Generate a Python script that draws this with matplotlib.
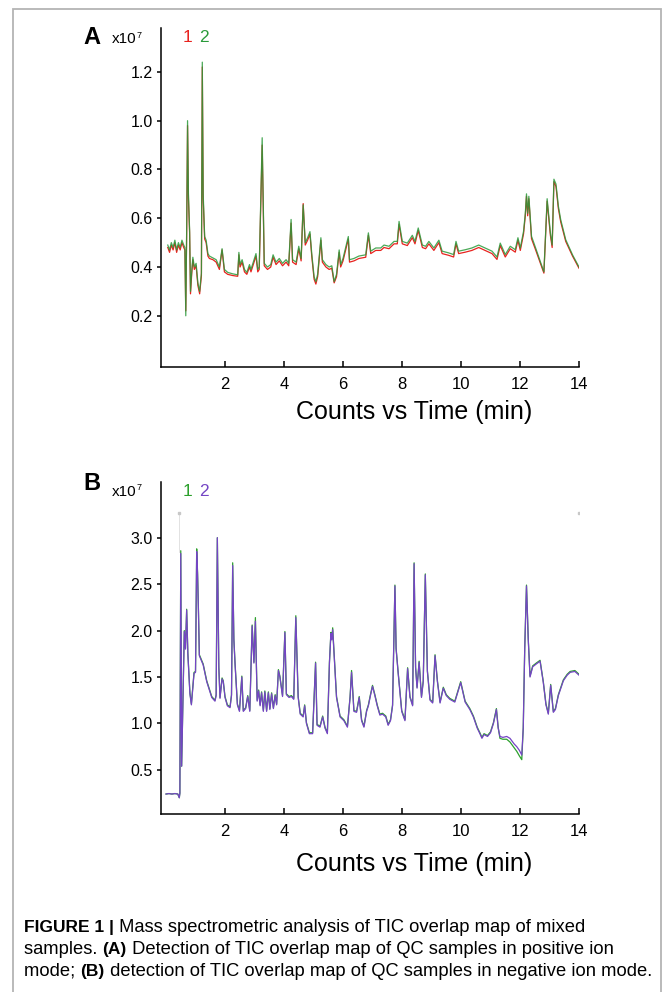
import numpy as np
import matplotlib.pyplot as plt
from matplotlib.patches import Rectangle

plt.rcParams['font.family'] = ['Liberation Sans', 'DejaVu Sans']

# Panel A: TIC, positive ion mode (x1e7 counts)
tA = [0.06, 0.12, 0.18, 0.24, 0.30, 0.36, 0.42, 0.48, 0.54, 0.60, 0.64, 0.67, 0.70, 0.73,
      0.76, 0.80, 0.83, 0.87, 0.91, 0.96, 1.02, 1.08, 1.14, 1.20, 1.23, 1.26, 1.31, 1.36,
      1.42, 1.47, 1.59, 1.70, 1.81, 1.90, 1.98, 2.09, 2.26, 2.43, 2.47, 2.51, 2.58, 2.66,
      2.74, 2.83, 2.88, 2.96, 3.05, 3.11, 3.16, 3.26, 3.33, 3.44, 3.55, 3.63, 3.73, 3.84,
      3.95, 4.07, 4.16, 4.24, 4.29, 4.41, 4.50, 4.58, 4.65, 4.72, 4.80, 4.88, 4.94, 5.02,
      5.08, 5.14, 5.25, 5.30, 5.42, 5.53, 5.62, 5.70, 5.78, 5.87, 5.92, 6.00, 6.18, 6.22,
      6.37, 6.54, 6.77, 6.86, 6.94, 7.11, 7.28, 7.39, 7.56, 7.73, 7.84, 7.90, 8.01, 8.18,
      8.35, 8.44, 8.55, 8.69, 8.80, 8.91, 9.08, 9.25, 9.36, 9.58, 9.75, 9.83, 9.92, 10.15,
      10.37, 10.60, 10.82, 11.05, 11.22, 11.33, 11.50, 11.67, 11.84, 11.93, 12.01, 12.12,
      12.18, 12.22, 12.26, 12.30, 12.39, 12.53, 12.81, 12.92, 13.03, 13.09, 13.15, 13.22,
      13.30, 13.38, 13.55, 13.78, 14.00]
A_s2 = [0.49, 0.47, 0.50, 0.48, 0.51, 0.47, 0.50, 0.48, 0.51, 0.49, 0.48, 0.20, 0.55, 1.00,
        0.70, 0.55, 0.30, 0.38, 0.44, 0.40, 0.415, 0.335, 0.30, 0.375, 1.24, 0.70, 0.525, 0.51,
        0.455, 0.445, 0.437, 0.43, 0.40, 0.475, 0.39, 0.378, 0.372, 0.368, 0.46, 0.41, 0.43, 0.39,
        0.378, 0.41, 0.39, 0.42, 0.455, 0.39, 0.40, 0.93, 0.415, 0.40, 0.41, 0.45, 0.42, 0.435,
        0.415, 0.43, 0.415, 0.595, 0.43, 0.42, 0.485, 0.435, 0.655, 0.50, 0.52, 0.545, 0.455, 0.36,
        0.34, 0.37, 0.52, 0.43, 0.41, 0.40, 0.405, 0.34, 0.37, 0.47, 0.41, 0.435, 0.525, 0.43,
        0.435, 0.445, 0.45, 0.54, 0.465, 0.478, 0.478, 0.49, 0.485, 0.505, 0.505, 0.587, 0.505, 0.498,
        0.53, 0.505, 0.56, 0.49, 0.485, 0.505, 0.478, 0.51, 0.465, 0.458, 0.451, 0.505, 0.465, 0.471,
        0.478, 0.49, 0.478, 0.465, 0.441, 0.498, 0.451, 0.485, 0.471, 0.52, 0.478, 0.546,
        0.62, 0.70, 0.62, 0.69, 0.526, 0.478, 0.38, 0.68, 0.54, 0.49, 0.76, 0.74,
        0.65, 0.594, 0.512, 0.45, 0.40]
A_s1 = [0.48, 0.46, 0.49, 0.47, 0.50, 0.46, 0.49, 0.47, 0.50, 0.48, 0.47, 0.22, 0.54, 0.98,
        0.68, 0.54, 0.29, 0.37, 0.43, 0.39, 0.405, 0.325, 0.29, 0.365, 1.22, 0.68, 0.515, 0.50,
        0.445, 0.435, 0.430, 0.42, 0.39, 0.470, 0.38, 0.370, 0.365, 0.362, 0.45, 0.40, 0.42, 0.38,
        0.370, 0.40, 0.38, 0.41, 0.445, 0.38, 0.39, 0.90, 0.405, 0.39, 0.40, 0.44, 0.41, 0.425,
        0.405, 0.42, 0.405, 0.58, 0.42, 0.41, 0.475, 0.425, 0.66, 0.49, 0.51, 0.535, 0.445, 0.35,
        0.33, 0.36, 0.51, 0.42, 0.40, 0.39, 0.395, 0.335, 0.36, 0.46, 0.40, 0.425, 0.515, 0.42,
        0.425, 0.435, 0.44, 0.53, 0.455, 0.468, 0.468, 0.48, 0.475, 0.495, 0.495, 0.575, 0.495, 0.488,
        0.52, 0.495, 0.55, 0.48, 0.475, 0.495, 0.468, 0.50, 0.455, 0.448, 0.441, 0.495, 0.455, 0.461,
        0.468, 0.48, 0.468, 0.455, 0.431, 0.488, 0.441, 0.475, 0.461, 0.51, 0.468, 0.536,
        0.61, 0.69, 0.61, 0.68, 0.516, 0.470, 0.375, 0.67, 0.53, 0.48, 0.75, 0.73,
        0.64, 0.585, 0.505, 0.445, 0.395]

# Panel B: TIC, negative ion mode (x1e7 counts)
tB = [0.00, 0.10, 0.20, 0.30, 0.40, 0.45, 0.47, 0.50, 0.53, 0.57, 0.62, 0.66, 0.70, 0.74,
      0.81, 0.86, 0.95, 1.00, 1.04, 1.07, 1.10, 1.13, 1.26, 1.38, 1.55, 1.66, 1.70, 1.74,
      1.79, 1.83, 1.90, 1.94, 2.00, 2.08, 2.17, 2.22, 2.26, 2.30, 2.34, 2.42, 2.49, 2.57,
      2.62, 2.70, 2.77, 2.84, 2.92, 2.98, 3.03, 3.09, 3.14, 3.19, 3.24, 3.30, 3.35, 3.41,
      3.47, 3.52, 3.58, 3.64, 3.70, 3.75, 3.81, 3.86, 3.95, 4.03, 4.08, 4.17, 4.25, 4.33,
      4.40, 4.48, 4.55, 4.65, 4.70, 4.76, 4.86, 4.97, 5.07, 5.12, 5.22, 5.31, 5.39, 5.47,
      5.54, 5.59, 5.62, 5.65, 5.70, 5.78, 5.90, 6.03, 6.15, 6.24, 6.29, 6.37, 6.46, 6.55,
      6.63, 6.71, 6.80, 6.86, 6.93, 7.00, 7.08, 7.16, 7.25, 7.34, 7.45, 7.53, 7.61, 7.68,
      7.76, 7.80, 7.87, 7.99, 8.10, 8.19, 8.27, 8.36, 8.41, 8.46, 8.51, 8.58, 8.66, 8.72,
      8.79, 8.86, 8.95, 9.04, 9.12, 9.20, 9.29, 9.40, 9.50, 9.62, 9.79, 9.99, 10.14, 10.30,
      10.42, 10.55, 10.64, 10.71, 10.78, 10.90, 11.00, 11.10, 11.20, 11.26, 11.32, 11.42, 11.55, 11.66,
      11.80, 11.89, 11.98, 12.06, 12.11, 12.16, 12.22, 12.28, 12.34, 12.43, 12.55, 12.68, 12.79, 12.88,
      12.96, 13.04, 13.13, 13.20, 13.30, 13.47, 13.60, 13.70, 13.86, 14.00]
B_s2 = [0.24, 0.245, 0.24, 0.245, 0.24, 0.20, 0.25, 2.83, 0.54, 1.20, 1.99, 1.80, 2.22, 1.75,
        1.32, 1.20, 1.54, 1.55, 2.85, 2.60, 2.20, 1.73, 1.63, 1.45, 1.28, 1.24, 1.30, 3.00,
        1.60, 1.27, 1.48, 1.45, 1.28, 1.19, 1.17, 1.30, 2.70, 1.90, 1.64, 1.20, 1.13, 1.50,
        1.13, 1.16, 1.29, 1.13, 2.05, 1.65, 2.10, 1.24, 1.35, 1.19, 1.33, 1.13, 1.34, 1.13,
        1.33, 1.15, 1.32, 1.16, 1.30, 1.20, 1.57, 1.50, 1.29, 1.98, 1.31, 1.28, 1.29, 1.26,
        2.14, 1.28, 1.10, 1.07, 1.19, 1.00, 0.89, 0.89, 1.65, 0.98, 0.96, 1.07, 0.95, 0.89,
        1.65, 1.97, 1.90, 2.01, 1.73, 1.28, 1.07, 1.03, 0.96, 1.28, 1.55, 1.13, 1.12, 1.28,
        1.03, 0.96, 1.13, 1.19, 1.30, 1.40, 1.30, 1.19, 1.09, 1.10, 1.07, 0.98, 1.03, 1.19,
        2.48, 1.80, 1.54, 1.13, 1.03, 1.59, 1.28, 1.19, 2.72, 1.60, 1.38, 1.66, 1.28, 1.45,
        2.60, 1.56, 1.25, 1.22, 1.73, 1.45, 1.22, 1.38, 1.30, 1.26, 1.23, 1.44, 1.23, 1.15,
        1.07, 0.95, 0.89, 0.84, 0.88, 0.86, 0.90, 1.00, 1.15, 0.95, 0.86, 0.85, 0.86, 0.84,
        0.78, 0.75, 0.71, 0.66, 0.95, 1.80, 2.48, 1.90, 1.50, 1.61, 1.64, 1.67, 1.44, 1.20,
        1.10, 1.41, 1.12, 1.15, 1.30, 1.46, 1.52, 1.55, 1.56, 1.52]
B_s1 = [0.24, 0.245, 0.24, 0.245, 0.24, 0.20, 0.25, 2.86, 0.54, 1.20, 2.00, 1.81, 2.23, 1.76,
        1.33, 1.21, 1.55, 1.56, 2.88, 2.62, 2.21, 1.74, 1.64, 1.46, 1.29, 1.25, 1.31, 3.00,
        1.61, 1.28, 1.49, 1.46, 1.29, 1.20, 1.18, 1.31, 2.73, 1.91, 1.65, 1.21, 1.14, 1.51,
        1.14, 1.17, 1.30, 1.14, 2.06, 1.66, 2.14, 1.25, 1.36, 1.20, 1.34, 1.14, 1.35, 1.14,
        1.34, 1.16, 1.33, 1.17, 1.31, 1.21, 1.58, 1.51, 1.30, 1.99, 1.32, 1.29, 1.30, 1.27,
        2.16, 1.29, 1.11, 1.08, 1.20, 1.01, 0.90, 0.90, 1.66, 0.99, 0.97, 1.08, 0.96, 0.90,
        1.66, 1.98, 1.91, 2.03, 1.74, 1.29, 1.08, 1.04, 0.97, 1.29, 1.57, 1.14, 1.13, 1.29,
        1.04, 0.97, 1.14, 1.20, 1.31, 1.41, 1.31, 1.20, 1.10, 1.11, 1.08, 0.99, 1.04, 1.20,
        2.49, 1.81, 1.55, 1.14, 1.04, 1.60, 1.29, 1.20, 2.73, 1.61, 1.39, 1.67, 1.29, 1.46,
        2.61, 1.57, 1.26, 1.23, 1.74, 1.46, 1.23, 1.39, 1.31, 1.27, 1.24, 1.45, 1.24, 1.16,
        1.08, 0.96, 0.90, 0.85, 0.89, 0.87, 0.91, 1.01, 1.16, 0.96, 0.84, 0.83, 0.83, 0.80,
        0.74, 0.70, 0.65, 0.61, 0.95, 1.81, 2.49, 1.91, 1.51, 1.62, 1.65, 1.68, 1.45, 1.21,
        1.11, 1.42, 1.13, 1.16, 1.31, 1.47, 1.53, 1.56, 1.57, 1.53]

W, H = 663, 992
fig = plt.figure(figsize=(W / 100, H / 100), dpi=100)


def fx(x):
    return x / W


def fy(y):
    return 1 - y / H


def style_axis(ax):
    for s in ['top', 'right']:
        ax.spines[s].set_visible(False)
    for s in ['left', 'bottom']:
        ax.spines[s].set_linewidth(1.1)
    ax.tick_params(axis='y', direction='out', length=3, width=1.1, pad=3, labelsize=11.5)
    ax.tick_params(axis='x', direction='in', length=4, width=1.1, pad=7, labelsize=12)
    ax.set_xticks([2, 4, 6, 8, 10, 12, 14])
    ax.set_xlim(-0.17, 14)


# panel A
axA = fig.add_axes([fx(161), fy(367), fx(579) - fx(161), fy(28) - fy(367)])
axA.plot(tA, A_s1, color='#e8231f', lw=0.9)
axA.plot(tA, A_s2, color='#2a9a3a', lw=0.9, alpha=0.85)
axA.set_ylim(-0.01, 1.38)
axA.set_yticks([0.2, 0.4, 0.6, 0.8, 1.0, 1.2])
style_axis(axA)

# panel B
axB = fig.add_axes([fx(161), fy(814), fx(579) - fx(161), fy(482) - fy(814)])
axB.plot(tB, B_s1, color='#2ca02c', lw=0.9)
axB.plot(tB, B_s2, color='#7445c4', lw=0.9)
axB.plot([0.44, 0.44], [2.85, 3.27], color='#dddddd', lw=0.6)
axB.plot([0.44, 14.0], [3.27, 3.27], ls='', marker='s', ms=2, color='#c8c8c8')
axB.set_ylim(0.025, 3.6)
axB.set_yticks([0.5, 1.0, 1.5, 2.0, 2.5, 3.0])
style_axis(axB)

# panel letters, scale and legend numbers
for letter, ly, sy, ny, c1, c2 in [('A', 37, 39, 38, '#e8231f', '#2a9a3a'),
                                    ('B', 484, 492, 492, '#2ca02c', '#7445c4')]:
    fig.text(fx(92), fy(ly), letter, fontsize=17, fontweight='bold', ha='center', va='center')
    fig.text(fx(112), fy(sy), 'x10', fontsize=11, ha='left', va='center')
    fig.text(fx(136.5), fy(sy - 4), '7', fontsize=6.5, ha='left', va='center')
    fig.text(fx(187), fy(ny), '1', fontsize=12.5, color=c1, ha='center', va='center')
    fig.text(fx(204), fy(ny), '2', fontsize=12.5, color=c2, ha='center', va='center')

fig.text(fx(414), fy(412), 'Counts vs Time (min)', fontsize=18, ha='center', va='center')
fig.text(fx(414), fy(864), 'Counts vs Time (min)', fontsize=18, ha='center', va='center')

# outer frame
fig.add_artist(Rectangle((fx(13), -0.01), fx(661) - fx(13), fy(9) + 0.01,
                         transform=fig.transFigure, fill=False, ec='#b4b4b4', lw=1.3))

# caption with bold fragments
caption = [
    [('FIGURE 1 |', 'bold'), (' Mass spectrometric analysis of TIC overlap map of mixed', 'normal')],
    [('samples. ', 'normal'), ('(A)', 'bold'), (' Detection of TIC overlap map of QC samples in positive ion', 'normal')],
    [('mode; ', 'normal'), ('(B)', 'bold'), (' detection of TIC overlap map of QC samples in negative ion mode.', 'normal')],
]
renderer = fig.canvas.get_renderer()
for i, parts in enumerate(caption):
    x = 24
    y = H - (932 + i * 22)
    for s, w in parts:
        size = 12.5 if w == 'bold' else 13.2
        t = fig.text(x, y, s, fontsize=size, fontweight=w,
                     ha='left', va='baseline', transform=None)
        bb = t.get_window_extent(renderer)
        x = bb.x1

fig.savefig('out.png', dpi=100)
